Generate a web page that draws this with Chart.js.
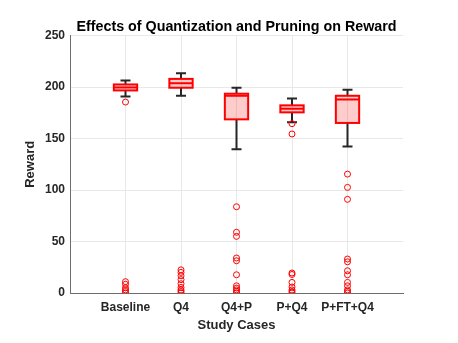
<!DOCTYPE html>
<html>
<head>
<meta charset="utf-8">
<script src="https://cdn.jsdelivr.net/npm/chart.js@4/dist/chart.umd.min.js"></script>
<style>
  html, body { margin: 0; padding: 0; background: #fff; }
  #wrap { width: 458px; height: 343px; }
</style>
</head>
<body>
<div id="wrap"><canvas id="boxChart"></canvas></div>
<script>
// box plot summary
const categories = ['Baseline', 'Q4', 'Q4+P', 'P+Q4', 'P+FT+Q4'];
const whiskerLow  = [191, 191.6, 139.7, 165.8, 142.3];
const q1          = [196.8, 199.4, 168.7, 175.5, 165.2];
const median      = [199.7, 203.8, 191.6, 179, 188];
const q3          = [202.6, 208, 193.6, 182.3, 191.6];
const whiskerHigh = [206.5, 213.5, 199.4, 189, 197.5];

// outliers per case
const outBaseline = [185.5, 11, 8.5, 5, 3, 1.5, 0];
const outQ4       = [22.5, 20, 16.7, 13, 9, 5.4, 3, 1.5, 0];
const outQ4P      = [83.8, 59, 55, 34, 31.3, 17.7, 7, 4.8, 3, 1.5, 0];
const outPQ4      = [164.5, 154.5, 19.4, 18, 10.3, 5.8, 3, 1.5, 0];
const outPFTQ4    = [115.5, 102.6, 91, 33, 30.3, 21.6, 17.7, 10.3, 7, 3, 1.5, 0];

const yTicks = [0, 50, 100, 150, 200, 250];

const allOutliers = [outBaseline, outQ4, outQ4P, outPQ4, outPFTQ4];
const outlierPoints = [];
allOutliers.forEach(function(list, i) {
    list.forEach(function(v) { outlierPoints.push({ x: i + 1, y: v }); });
});

const textColor = '#262626';
const boxHalf = 0.21;
const capHalf = 0.09;

// draws boxes, whiskers, medians using the chart scales
const boxPlugin = {
    id: 'boxes',
    beforeDatasetsDraw(chart) {
        const ctx = chart.ctx;
        const xs = chart.scales.x, ys = chart.scales.y;
        ctx.save();
        categories.forEach(function(c, i) {
            const pos = i + 1;
            const xc = xs.getPixelForValue(pos);
            const xl = xs.getPixelForValue(pos - boxHalf);
            const xr = xs.getPixelForValue(pos + boxHalf);
            const cl = xs.getPixelForValue(pos - capHalf);
            const cr = xs.getPixelForValue(pos + capHalf);
            const yLo = ys.getPixelForValue(whiskerLow[i]);
            const yHi = ys.getPixelForValue(whiskerHigh[i]);
            const yQ1 = ys.getPixelForValue(q1[i]);
            const yQ3 = ys.getPixelForValue(q3[i]);
            const yMed = ys.getPixelForValue(median[i]);

            // whiskers
            ctx.strokeStyle = textColor;
            ctx.lineWidth = 2;
            ctx.beginPath();
            ctx.moveTo(xc, yQ3); ctx.lineTo(xc, yHi);
            ctx.moveTo(cl, yHi); ctx.lineTo(cr, yHi);
            ctx.moveTo(xc, yQ1); ctx.lineTo(xc, yLo);
            ctx.moveTo(cl, yLo); ctx.lineTo(cr, yLo);
            ctx.stroke();

            // box
            ctx.fillStyle = 'rgba(255, 0, 0, 0.2)';
            ctx.fillRect(xl, yQ3, xr - xl, yQ1 - yQ3);
            ctx.strokeStyle = '#ff0000';
            ctx.lineWidth = 2;
            ctx.strokeRect(xl, yQ3, xr - xl, yQ1 - yQ3);

            // median
            ctx.beginPath();
            ctx.moveTo(xl, yMed); ctx.lineTo(xr, yMed);
            ctx.stroke();
        });
        ctx.restore();
    }
};

new Chart(document.getElementById('boxChart').getContext('2d'), {
    type: 'scatter',
    data: {
        datasets: [{
            label: 'Outliers',
            data: outlierPoints,
            pointStyle: 'circle',
            pointRadius: 3,
            pointBorderWidth: 1,
            pointBorderColor: '#ff0000',
            pointBackgroundColor: 'rgba(0,0,0,0)'
        }]
    },
    options: {
        responsive: true,
        maintainAspectRatio: false,
        animation: false,
        layout: { padding: { left: 0, right: 55, top: 0, bottom: 0 } },
        plugins: {
            legend: { display: false },
            tooltip: { enabled: false },
            title: {
                display: true,
                text: 'Effects of Quantization and Pruning on Reward',
                color: '#000',
                fullSize: false,
                font: { family: 'Liberation Sans, Arial, sans-serif', size: 14.3, weight: 'bold', lineHeight: 1.2 },
                padding: { top: 18.5, bottom: 0 }
            }
        },
        scales: {
            x: {
                type: 'linear',
                min: 0,
                max: 6,
                afterBuildTicks: function(scale) {
                    scale.ticks = [0, 1, 2, 3, 4, 5, 6].map(function(v) { return { value: v }; });
                },
                afterFit: function(scale) { scale.height = 50; },
                ticks: {
                    autoSkip: false,
                    maxRotation: 0,
                    padding: 7,
                    color: textColor,
                    font: { family: 'Liberation Sans, Arial, sans-serif', size: 12, weight: 'bold' },
                    callback: function(v) { return categories[v - 1] || ''; }
                },
                grid: {
                    drawTicks: false,
                    color: function(c) {
                        const v = c.tick ? c.tick.value : 0;
                        return (v === 0 || v === 6) ? 'rgba(0,0,0,0)' : '#e8e8e8';
                    }
                },
                border: { color: '#6e6e6e', width: 1 },
                title: {
                    display: true,
                    text: 'Study Cases',
                    color: textColor,
                    font: { family: 'Liberation Sans, Arial, sans-serif', size: 13, weight: 'bold' },
                    padding: { top: 0, bottom: 10 }
                }
            },
            y: {
                min: 0,
                max: 250,
                afterBuildTicks: function(scale) {
                    scale.ticks = yTicks.map(function(v) { return { value: v }; });
                },
                afterFit: function(scale) { scale.width = 70; },
                ticks: {
                    padding: 5,
                    color: textColor,
                    font: { family: 'Liberation Sans, Arial, sans-serif', size: 12, weight: 'bold' }
                },
                grid: { drawTicks: false, color: '#e8e8e8' },
                border: { color: '#6e6e6e', width: 1 },
                title: {
                    display: true,
                    text: 'Reward',
                    color: textColor,
                    font: { family: 'Liberation Sans, Arial, sans-serif', size: 13, weight: 'bold' },
                    padding: { top: 23, bottom: 0 }
                }
            }
        }
    },
    plugins: [boxPlugin]
});
</script>
</body>
</html>
